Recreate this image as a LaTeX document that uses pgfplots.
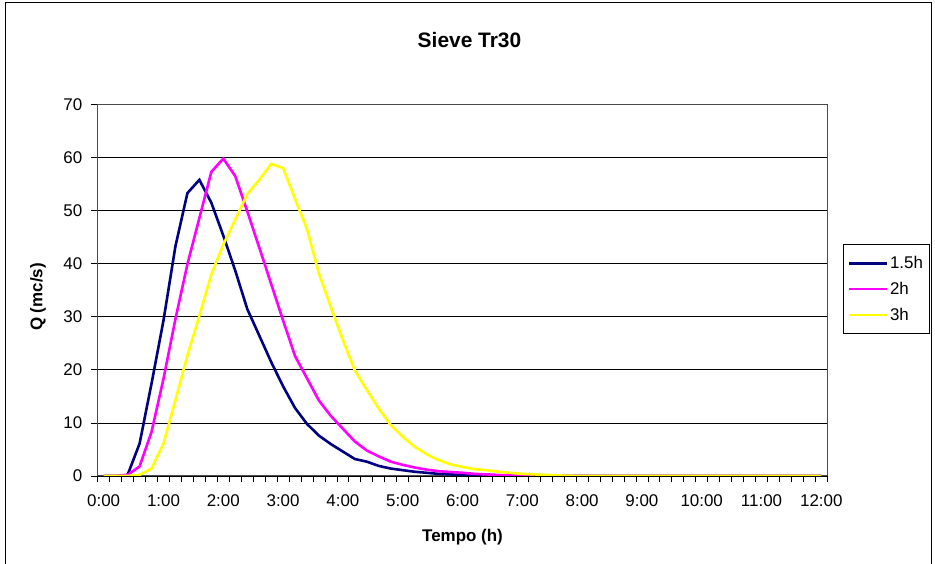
\documentclass[border=0pt]{standalone}
\usepackage{fontspec}
\setmainfont{Liberation Sans}
\usepackage{pgfplots}
\pgfplotsset{compat=1.18}
\definecolor{navyc}{RGB}{0,0,128}
\definecolor{magc}{RGB}{255,0,255}
\definecolor{yelc}{RGB}{255,255,0}
\begin{document}
\begin{tikzpicture}[x=1bp,y=1bp]
\useasboundingbox (0,0) rectangle (935,564);
\fill[white] (0,0) rectangle (935,564);
\draw[black, line width=1bp] (5,-20) rectangle (931,561);
\node[font=\bfseries\fontsize{21}{24}\selectfont] at (469.5,524) {Sieve Tr30};
\node[font=\bfseries\fontsize{17}{20}\selectfont] at (462.5,27) {Tempo (h)};
\node[font=\bfseries\fontsize{17}{20}\selectfont, rotate=90] at (38,267) {Q (mc/s)};
\begin{axis}[
  at={(97.7bp,88bp)}, anchor=south west,
  scale only axis, width=729.6bp, height=371.5bp,
  xmin=-0.5, xmax=60.5, ymin=0, ymax=70,
  xtick={0,5,...,60},
  xticklabels={0:00,1:00,2:00,3:00,4:00,5:00,6:00,7:00,8:00,9:00,10:00,11:00,12:00},
  minor xtick={-0.5,0.5,...,60.5},
  ytick={0,10,...,70},
  minor ytick={0,10,...,70},
  ymajorgrids,
  major grid style={black, line width=0.8bp},
  tick align=outside, tick pos=left,
  major tick length=0bp, minor tick length=6.5bp,
  tick style={black, line width=0.8bp},
  axis line style={black!70, line width=1bp},
  ticklabel style={font=\fontsize{17}{20}\selectfont},
  xticklabel style={yshift=-15bp},
  yticklabel style={xshift=-12bp},
  /pgf/number format/assume math mode=true,
  legend style={at={(1.0215,0.6245)}, anchor=north west, draw=black, line width=0.8bp,
    font=\fontsize{17}{20}\selectfont, inner xsep=4bp, inner ysep=10bp, row sep=8bp,
    nodes={inner sep=2bp}},
  legend cell align=left,
  legend image code/.code={\draw[#1, line width=2.6bp] (0bp,0bp) -- (38bp,0bp);},
]
\addplot[navyc, line width=2.6bp, no marks] coordinates {
(0,0) (1,0) (2,0.2) (3,6.1) (4,17.4) (5,29.3) (6,43.3) (7,53.3) (8,55.8) (9,51.5)
(10,45.3) (11,38.7) (12,31.5) (13,26.5) (14,21.5) (15,16.9) (16,12.8) (17,9.8) (18,7.6) (19,6.0)
(20,4.6) (21,3.2) (22,2.7) (23,1.9) (24,1.4) (25,1.1) (26,0.8) (27,0.6) (28,0.4) (29,0.3)
(30,0.2) (31,0.15) (32,0.1) (33,0.05) (34,0) (35,0) (36,0) (37,0) (38,0) (39,0)
(40,0) (41,0) (42,0) (43,0) (44,0) (45,0) (46,0) (47,0) (48,0) (49,0)
(50,0) (51,0) (52,0) (53,0) (54,0) (55,0) (56,0) (57,0) (58,0) (59,0) (60,0)
};
\addlegendentry{1.5h}
\addplot[magc, line width=2.6bp, no marks] coordinates {
(0,0) (1,0) (2,0.2) (3,1.8) (4,8.3) (5,18.3) (6,29.6) (7,39.9) (8,48.6) (9,57.3)
(10,59.8) (11,56.5) (12,49.9) (13,43.1) (14,36.2) (15,29.3) (16,22.6) (17,18.4) (18,14.2) (19,11.3)
(20,8.9) (21,6.5) (22,4.8) (23,3.7) (24,2.7) (25,2.1) (26,1.6) (27,1.2) (28,0.9) (29,0.75)
(30,0.6) (31,0.4) (32,0.3) (33,0.2) (34,0.1) (35,0.05) (36,0) (37,0) (38,0) (39,0)
(40,0) (41,0) (42,0) (43,0) (44,0) (45,0) (46,0) (47,0) (48,0) (49,0)
(50,0) (51,0) (52,0) (53,0) (54,0) (55,0) (56,0) (57,0) (58,0) (59,0) (60,0)
};
\addlegendentry{2h}
\addplot[yelc, line width=2.6bp, no marks] coordinates {
(0,0) (1,0) (2,0) (3,0.2) (4,1.4) (5,6.1) (6,14.3) (7,22.7) (8,30.2) (9,38)
(10,43.6) (11,48.3) (12,53.1) (13,55.8) (14,58.8) (15,58) (16,52.2) (17,46.5) (18,38.1) (19,31.8)
(20,25.6) (21,19.9) (22,16.2) (23,12.7) (24,9.6) (25,7.4) (26,5.5) (27,4.1) (28,3.0) (29,2.2)
(30,1.7) (31,1.3) (32,1.1) (33,0.8) (34,0.6) (35,0.4) (36,0.3) (37,0.2) (38,0.1) (39,0.05)
(40,0) (41,0) (42,0) (43,0) (44,0) (45,0) (46,0) (47,0) (48,0) (49,0)
(50,0) (51,0) (52,0) (53,0) (54,0) (55,0) (56,0) (57,0) (58,0) (59,0) (60,0)
};
\addlegendentry{3h}
\end{axis}
\end{tikzpicture}
\end{document}
